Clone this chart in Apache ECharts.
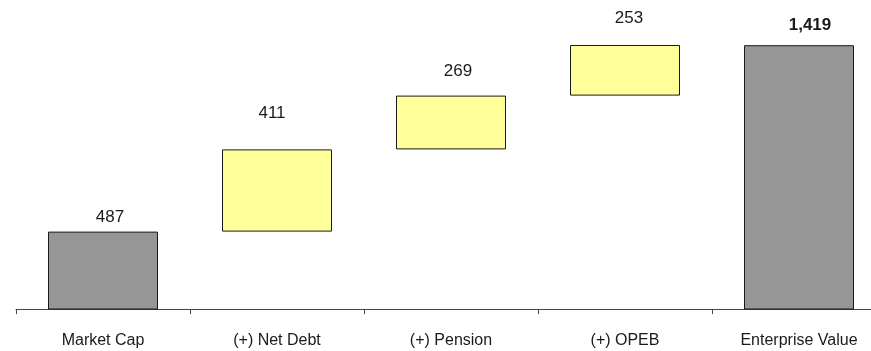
<!DOCTYPE html>
<html>
<head>
<meta charset="utf-8">
<script src="https://cdn.jsdelivr.net/npm/echarts@6/dist/echarts.min.js"></script>
<style>
html,body{margin:0;padding:0;background:#fff;overflow:hidden;width:871px;height:351px;}
#chart{width:886px;height:351px;}
</style>
</head>
<body>
<div id="chart"></div>
<script>
var categories = ['Market Cap', '(+) Net Debt', '(+) Pension', '(+) OPEB', 'Enterprise Value'];
var values = [487, 411, 269, 253, 1419];
var valueLabels = ['487', '411', '269', '253', '1,419'];
var isTotal = [true, false, false, false, true];

// label placement tweaks (style only)
var labelOffsets = [[7, -6], [-5, -28], [7, -16], [4, -18], [11, -11]];

// pick a condensed font if one is installed
function hasFont(name) {
  var c = document.createElement('canvas').getContext('2d');
  var s = 'Market Cap 0123456789 Enterprise Value';
  c.font = '20px monospace';
  var w0 = c.measureText(s).width;
  c.font = '20px "' + name + '", monospace';
  var w1 = c.measureText(s).width;
  c.font = '20px serif';
  var w2 = c.measureText(s).width;
  c.font = '20px "' + name + '", serif';
  var w3 = c.measureText(s).width;
  return w0 !== w1 || w2 !== w3;
}
var FONT = "'Liberation Sans', Arial, sans-serif";
var axisSize = 16, valueSize = 17;
if (hasFont('Liberation Sans Narrow')) { FONT = "'Liberation Sans Narrow'"; axisSize = 17; valueSize = 18; }
else if (hasFont('Arial Narrow')) { FONT = "'Arial Narrow'"; axisSize = 17; valueSize = 18; }

var GREY = '#969696';
var YELLOW = '#FFFF99';

var base = [];
var running = 0;
for (var i = 0; i < values.length; i++) {
  if (isTotal[i]) { base.push(0); running = values[i]; }
  else { base.push(running); running += values[i]; }
}

var barData = values.map(function (v, i) {
  return {
    value: v,
    itemStyle: { color: isTotal[i] ? GREY : YELLOW },
    label: {
      show: true,
      position: 'top',
      distance: 0,
      offset: labelOffsets[i],
      formatter: valueLabels[i],
      fontWeight: i === values.length - 1 ? 'bold' : 'normal'
    }
  };
});

var chart = echarts.init(document.getElementById('chart'));
chart.setOption({
  animation: false,
  grid: { left: 16, top: 29, right: 0, height: 280, containLabel: false },
  xAxis: {
    type: 'category',
    data: categories,
    boundaryGap: true,
    axisLine: { show: true, lineStyle: { color: '#444', width: 1 } },
    axisTick: { show: true, interval: 0, length: 5, lineStyle: { color: '#444' } },
    axisLabel: { interval: 0, margin: 24, fontFamily: FONT, fontSize: axisSize, color: '#1a1a1a' }
  },
  yAxis: {
    type: 'value',
    min: 100,
    max: 1500,
    show: false,
    splitLine: { show: false }
  },
  series: [
    {
      type: 'bar',
      stack: 'wf',
      barWidth: 110,
      silent: true,
      itemStyle: { color: 'transparent', borderColor: 'transparent' },
      data: base
    },
    {
      type: 'bar',
      stack: 'wf',
      barWidth: 110,
      itemStyle: { borderColor: '#1a1a1a', borderWidth: 1 },
      label: { fontFamily: FONT, fontSize: valueSize, color: '#1a1a1a' },
      data: barData
    }
  ]
});
</script>
</body>
</html>
